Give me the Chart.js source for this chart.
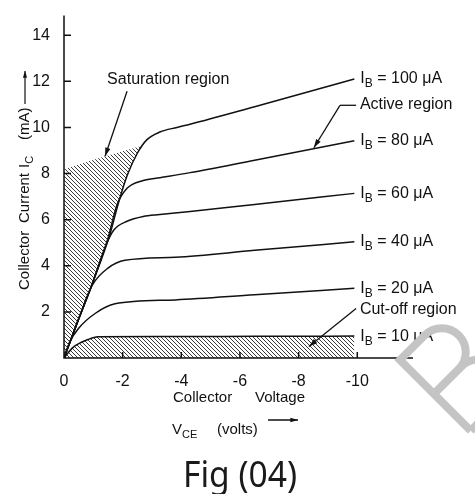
<!DOCTYPE html>
<html>
<head>
<meta charset="utf-8">
<script src="https://cdn.jsdelivr.net/npm/chart.js@4/dist/chart.umd.min.js"></script>
<style>body{margin:0;background:#fff}</style>
</head>
<body>
<canvas id="chart" width="475" height="494"></canvas>
<script>
(() => {

//----- Data -----//

    var xTicks = [0, -2, -4, -6, -8, -10]
    var yTicks = [2, 4, 6, 8, 10, 12, 14]
    var baseCurrents = ['100', '80', '60', '40', '20', '10']   // I_B in µA, same order as curves

    // [V_CE (volts), I_C (mA)]
    var ib100 = [[0,0],[-0.51,1.72],[-0.92,3.07],[-1.57,5.38],[-1.84,6.65],[-2.15,7.9],[-2.5,8.88],[-2.83,9.47],[-3.27,9.8],[-3.85,10.0],[-4.3,10.14],[-6.5,10.9],[-9.9,12.1]]
    var ib80  = [[0,0],[-0.51,1.72],[-0.92,3.07],[-1.5,5.2],[-1.81,6.65],[-2.15,7.36],[-2.7,7.7],[-3.27,7.82],[-4.3,8.04],[-6.5,8.58],[-9.9,9.42]]
    var ib60  = [[0,0],[-0.51,1.72],[-0.92,3.07],[-1.45,4.95],[-1.7,5.55],[-2.15,5.93],[-2.7,6.14],[-3.27,6.22],[-4.3,6.35],[-6.5,6.66],[-9.9,7.14]]
    var ib40  = [[0,0],[-0.5,1.7],[-0.96,3.15],[-1.5,3.9],[-2.08,4.24],[-3.8,4.37],[-6.5,4.67],[-9.9,5.04]]
    var ib20  = [[0,0],[-0.2,0.7],[-0.48,1.26],[-1.06,1.93],[-1.74,2.35],[-3.8,2.52],[-6.5,2.74],[-9.9,3.02]]
    var ib10  = [[0,0],[-0.3,0.45],[-0.82,0.8],[-1.16,0.92],[-3.5,0.93],[-6.5,0.94],[-9.9,0.95]]
    var saturation = [[0,0],[0,8.2],[-1.4,8.75],[-2.66,9.2],[-2.5,8.88],[-2.15,7.9],[-1.84,6.65],[-1.57,5.38],[-0.92,3.07],[-0.51,1.72],[0,0]]

    var curves = [ib100, ib80, ib60, ib40, ib20, ib10]

//----- Helpers -----//

    var ink = '#111'
    var sans = '"Liberation Sans", Arial, sans-serif'

    function toXY (pts) {
        return pts.map(p => ({ x: p[0], y: p[1] }))
    }

    function hatch () {
        var c = document.createElement('canvas')
        c.width = 4
        c.height = 4
        var g = c.getContext('2d')
        g.strokeStyle = '#222'
        g.lineWidth = 0.9
        g.beginPath()
        g.moveTo(-1, -1); g.lineTo(5, 5)
        g.moveTo(-1, 3); g.lineTo(1, 5)
        g.moveTo(3, -1); g.lineTo(5, 1)
        g.stroke()
        return g.createPattern(c, 'repeat')
    }

    function arrow (ctx, x1, y1, x2, y2, head) {
        var a = Math.atan2(y2 - y1, x2 - x1)
        ctx.beginPath()
        ctx.moveTo(x1, y1)
        ctx.lineTo(x2, y2)
        ctx.stroke()
        ctx.beginPath()
        ctx.moveTo(x2, y2)
        ctx.lineTo(x2 - head * Math.cos(a - 0.3), y2 - head * Math.sin(a - 0.3))
        ctx.lineTo(x2 - head * Math.cos(a + 0.3), y2 - head * Math.sin(a + 0.3))
        ctx.closePath()
        ctx.fill()
    }

    // draws pieces like [['I', 0], ['B', 1], [' = 100 μA', 0]], 1 = subscript
    function richText (ctx, x, y, parts, size) {
        parts.forEach(p => {
            var s = p[1] ? Math.round(size * 0.72) : size
            ctx.font = s + 'px ' + sans
            ctx.fillText(p[0], x, y + (p[1] ? size * 0.32 : 0))
            x += ctx.measureText(p[0]).width
        })
        return x
    }

//----- Plugin for axes, labels and notes -----//

    var notes = {
        id: 'notes',
        afterDraw (chart) {
            var ctx = chart.ctx
            var a = chart.chartArea
            var sx = chart.scales.x
            var sy = chart.scales.y
            var X = v => sx.getPixelForValue(v)
            var Y = v => sy.getPixelForValue(v)

            ctx.save()
            ctx.strokeStyle = ink
            ctx.fillStyle = ink
            ctx.lineWidth = 1.5

            // axes with inner ticks
            ctx.beginPath()
            ctx.moveTo(a.left, a.top)
            ctx.lineTo(a.left, a.bottom)
            ctx.lineTo(a.right, a.bottom)
            yTicks.forEach(v => { ctx.moveTo(a.left, Y(v)); ctx.lineTo(a.left + 7, Y(v)) })
            xTicks.slice(1).forEach(v => { ctx.moveTo(X(v), a.bottom); ctx.lineTo(X(v), a.bottom - 6) })
            ctx.stroke()

            // I_B labels at the end of each curve
            ctx.textBaseline = 'middle'
            ctx.textAlign = 'left'
            curves.forEach((c, i) => {
                var meta = chart.getDatasetMeta(i + 1)
                var pt = meta.data[meta.data.length - 1]
                richText(ctx, pt.x + 6, pt.y, [['I', 0], ['B', 1], [' = ' + baseCurrents[i] + ' μA', 0]], 16)
            })

            // region notes
            ctx.lineWidth = 1.3
            ctx.font = '16px ' + sans
            ctx.fillText('Saturation', X(-1.47), Y(12.07))
            ctx.fillText('region', X(-4.12), Y(12.07))
            arrow(ctx, X(-2.15), Y(11.57), X(-1.4), Y(8.75), 9)

            ctx.fillText('Active region', X(-10.09), Y(10.98))
            ctx.beginPath()
            ctx.moveTo(X(-9.96), Y(10.96))
            ctx.lineTo(X(-9.41), Y(10.96))
            ctx.stroke()
            arrow(ctx, X(-9.41), Y(10.96), X(-8.52), Y(9.12), 9)

            ctx.fillText('Cut-off region', X(-10.09), Y(2.1))
            arrow(ctx, X(-9.96), Y(2.15), X(-8.35), Y(0.5), 9)

            // y axis title
            ctx.save()
            ctx.translate(25, 290)
            ctx.rotate(-Math.PI / 2)
            ctx.font = '15px ' + sans
            ctx.fillText('Collector', 0, 0)
            ctx.fillText('Current', 67, 0)
            richText(ctx, 122, 0, [['I', 0], ['C', 1]], 15)
            ctx.font = '15px ' + sans
            ctx.fillText('(mA)', 150, 0)
            ctx.lineWidth = 1.2
            arrow(ctx, 186, 0, 219, 0, 7)
            ctx.restore()

            // x axis title
            ctx.font = '15px ' + sans
            ctx.fillText('Collector', 173, 398)
            ctx.fillText('Voltage', 255, 398)
            richText(ctx, 172, 430, [['V', 0], ['CE', 1]], 15)
            ctx.font = '15px ' + sans
            ctx.fillText('(volts)', 217, 430)
            ctx.lineWidth = 1.5
            arrow(ctx, 268, 420, 298, 420, 8)

            // figure caption
            ctx.save()
            ctx.font = '36px "Noto Sans", sans-serif'
            ctx.textBaseline = 'alphabetic'
            var w = ctx.measureText('Fig (04)').width
            ctx.translate(183, 487)
            ctx.scale(114 / w, 1)
            ctx.fillStyle = '#1a1a1a'
            ctx.fillText('Fig (04)', 0, 0)
            ctx.restore()

            // faint watermark letter
            ctx.save()
            ctx.translate(400, 360)
            ctx.rotate(-Math.PI / 4)
            ctx.strokeStyle = 'rgb(196,196,196)'
            ctx.lineWidth = 8
            ctx.beginPath()
            ctx.moveTo(0, 100)
            ctx.lineTo(0, 0)
            ctx.lineTo(35, 0)
            ctx.arc(35, 24, 24, -Math.PI / 2, Math.PI / 2)
            ctx.lineTo(0, 48)
            ctx.moveTo(0, 48)
            ctx.lineTo(38, 48)
            ctx.arc(38, 74, 26, -Math.PI / 2, Math.PI / 2)
            ctx.lineTo(0, 100)
            ctx.stroke()
            ctx.restore()

            ctx.restore()
        }
    }

//----- Datasets -----//

    var pattern = hatch()

    var datasets = [{
        data: toXY(saturation),
        borderColor: 'rgba(0,0,0,0)',
        backgroundColor: pattern,
        fill: 'shape',
        tension: 0,
        pointRadius: 0
    }]

    curves.forEach((c, i) => {
        datasets.push({
            data: toXY(c),
            borderColor: ink,
            borderWidth: 1.5,
            backgroundColor: pattern,
            fill: i === curves.length - 1 ? 'origin' : false,
            cubicInterpolationMode: 'monotone',
            pointRadius: 0
        })
    })

//----- Chart -----//

    var tickFont = { family: sans, size: 16 }

    new Chart(document.getElementById('chart'), {
        type: 'line',
        data: { datasets: datasets },
        options: {
            responsive: false,
            animation: false,
            layout: { padding: { top: 5, right: 62, left: 0, bottom: 0 } },
            plugins: { legend: { display: false }, tooltip: { enabled: false } },
            scales: {
                x: {
                    type: 'linear',
                    min: -11.9,
                    max: 0,
                    reverse: true,
                    grid: { display: false },
                    border: { display: false },
                    afterBuildTicks: s => { s.ticks = xTicks.map(v => ({ value: v })) },
                    afterFit: s => { s.height = 136 },
                    ticks: { font: tickFont, color: ink, padding: 6, maxRotation: 0, autoSkip: false, callback: v => String(v) }
                },
                y: {
                    type: 'linear',
                    min: 0,
                    max: 14.85,
                    grid: { display: false },
                    border: { display: false },
                    afterBuildTicks: s => { s.ticks = yTicks.map(v => ({ value: v })) },
                    afterFit: s => { s.width = 64 },
                    ticks: { font: tickFont, color: ink, padding: 6, autoSkip: false, callback: v => String(v) }
                }
            }
        },
        plugins: [notes]
    })

})();
</script>
</body>
</html>
